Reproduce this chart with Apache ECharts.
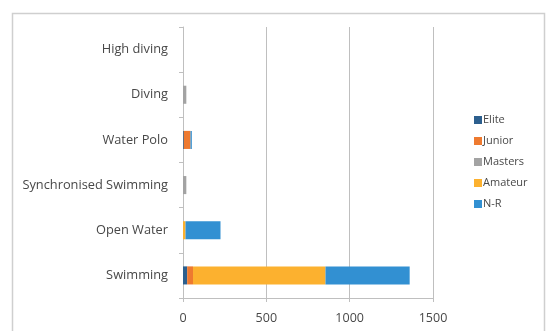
<!DOCTYPE html>
<html><head><meta charset="utf-8">
<script src="https://cdn.jsdelivr.net/npm/echarts@6/dist/echarts.min.js"></script>
<style>html,body{margin:0;padding:0;background:#fff}#c{width:547px;height:331px}</style>
</head><body><div id="c"></div>
<script>
const categories = ['Swimming', 'Open Water', 'Synchronised Swimming', 'Water Polo', 'Diving', 'High diving'];
const seriesNames = ['Elite', 'Junior', 'Masters', 'Amateur', 'N-R'];
const elite   = [25, 0, 0, 5, 0, 0];
const junior  = [35, 0, 0, 40, 0, 0];
const masters = [0, 0, 20, 0, 20, 0];
const amateur = [795, 15, 0, 0, 0, 0];
const nr      = [505, 210, 0, 8, 0, 0];
const xTicks = { min: 0, max: 1500, interval: 500 };
const colors = ['#2C5F8E', '#EE7A30', '#A3A3A3', '#FCB12F', '#3290D2'];
const values = [elite, junior, masters, amateur, nr];

const chart = echarts.init(document.getElementById('c'));
chart.setOption({
  animation: false,
  color: colors,
  graphic: [{
    type: 'rect', left: 10, top: 11, z: -1,
    shape: { width: 532, height: 330 },
    style: { fill: 'none', stroke: '#cfcfcf', lineWidth: 1.5 }
  }],
  grid: { left: 183, right: 114, top: 27, bottom: 33 },
  legend: {
    orient: 'vertical', left: 469, top: 108,
    itemWidth: 8, itemHeight: 8, itemGap: 7, icon: 'rect',
    data: seriesNames,
    textStyle: { fontFamily: 'Open Sans', fontSize: 11, lineHeight: 14, color: '#484848', padding: [0, 0, 0, -4] }
  },
  xAxis: {
    type: 'value', min: xTicks.min, max: xTicks.max, interval: xTicks.interval,
    axisLine: { show: true, lineStyle: { color: '#bfbfbf' } },
    axisTick: { show: true, length: 4, lineStyle: { color: '#bfbfbf' } },
    splitLine: { show: true, lineStyle: { color: '#bfbfbf' } },
    axisLabel: { fontFamily: 'Open Sans', fontSize: 12.5, color: '#484848', margin: 14,
      formatter: v => String(v) }
  },
  yAxis: {
    type: 'category', data: categories,
    axisLine: { show: true, lineStyle: { color: '#bfbfbf' } },
    axisTick: { show: true, length: 4, lineStyle: { color: '#bfbfbf' } },
    axisLabel: { fontFamily: 'Open Sans', fontSize: 12.8, color: '#484848', margin: 15 }
  },
  series: seriesNames.map((n, i) => ({
    name: n, type: 'bar', stack: 'total', barCategoryGap: '60%',
    data: values[i]
  }))
});
</script></body></html>
